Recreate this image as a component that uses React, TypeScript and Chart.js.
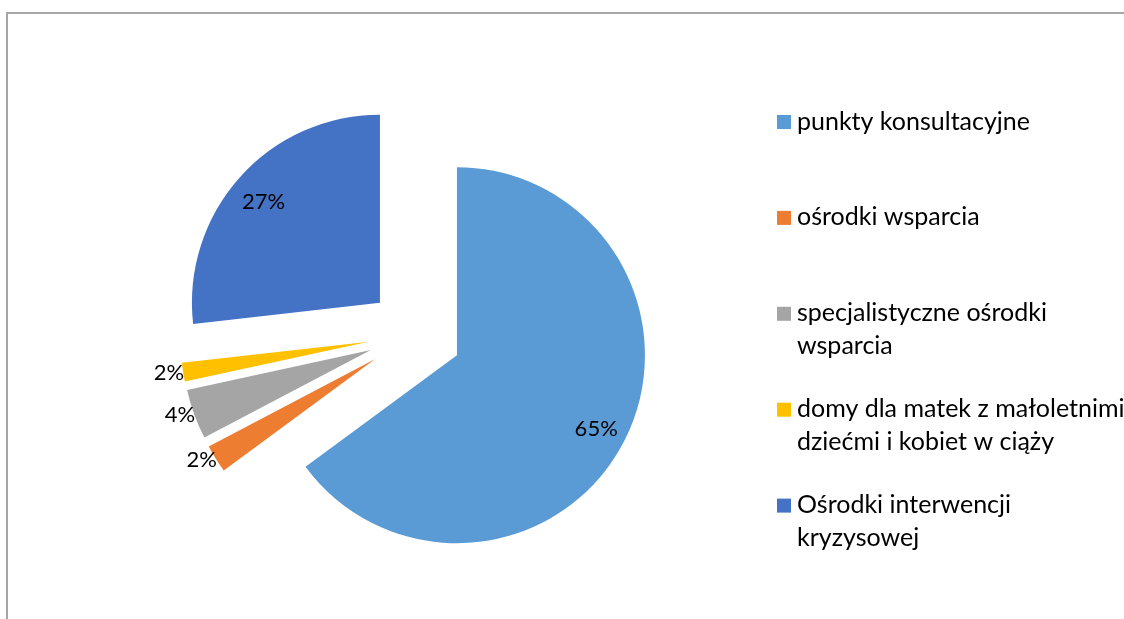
import React, { useEffect, useRef } from "react";
import { Chart, registerables } from "chart.js";

Chart.register(...registerables);

const categories = [
  "punkty konsultacyjne",
  "ośrodki wsparcia",
  "specjalistyczne ośrodki wsparcia",
  "domy dla matek z małoletnimi dziećmi i kobiet w ciąży",
  "Ośrodki interwencji kryzysowej",
];
const shares = [64.9, 2.4, 4.3, 1.6, 26.8];
const colors = ["#5B9BD5", "#ED7D31", "#A5A5A5", "#FFC000", "#4472C4"];
const explode = [47, 47, 47, 47, 47];

const FONT = "Lato, 'Open Sans', 'Noto Sans', sans-serif";

function wrapText(ctx: CanvasRenderingContext2D, text: string, maxWidth: number): string[] {
  const words = text.split(" ");
  const lines: string[] = [];
  let cur = "";
  for (const w of words) {
    const test = cur ? cur + " " + w : w;
    if (ctx.measureText(test).width > maxWidth && cur) {
      lines.push(cur);
      cur = w;
    } else {
      cur = test;
    }
  }
  if (cur) lines.push(cur);
  return lines;
}

const explodePlugin = {
  id: "explodeSlices",
  afterDatasetsUpdate(chart: any) {
    const meta = chart.getDatasetMeta(0);
    meta.data.forEach((arc: any, i: number) => {
      const mid = (arc.startAngle + arc.endAngle) / 2;
      arc.x += Math.cos(mid) * explode[i];
      arc.y += Math.sin(mid) * explode[i];
    });
  },
};

const labelPlugin = {
  id: "pctLabels",
  afterDatasetsDraw(chart: any) {
    const ctx: CanvasRenderingContext2D = chart.ctx;
    const meta = chart.getDatasetMeta(0);
    const total = shares.reduce((a, b) => a + b, 0);
    ctx.save();
    ctx.font = `22px ${FONT}`;
    ctx.fillStyle = "#000";
    ctx.textBaseline = "alphabetic";
    meta.data.forEach((arc: any, i: number) => {
      const share = shares[i] / total;
      const text = Math.round(share * 100) + "%";
      const mid = (arc.startAngle + arc.endAngle) / 2;
      const r = arc.outerRadius;
      if (share > 0.1) {
        const x = arc.x + Math.cos(mid) * r * 0.83;
        const y = arc.y + Math.sin(mid) * r * 0.83;
        ctx.textAlign = "center";
        ctx.fillText(text, x, y + 10);
      } else {
        const x = arc.x + Math.cos(mid) * r + 1;
        const y = arc.y + Math.sin(mid) * r;
        ctx.textAlign = "right";
        ctx.fillText(text, x, y + 8);
      }
    });
    ctx.restore();
  },
};

const legendPlugin = {
  id: "sideLegend",
  afterDraw(chart: any) {
    const ctx: CanvasRenderingContext2D = chart.ctx;
    const boxX = 777;
    const textX = 797;
    const firstY = 122;
    const step = 95.9;
    const lineH = 33;
    ctx.save();
    ctx.font = `25px ${FONT}`;
    ctx.textAlign = "left";
    ctx.textBaseline = "alphabetic";
    categories.forEach((cat, i) => {
      const cy = firstY + i * step;
      ctx.fillStyle = colors[i];
      ctx.fillRect(boxX, cy - 7, 14, 14);
      ctx.fillStyle = "#000";
      const lines = wrapText(ctx, cat, 335);
      lines.forEach((ln, j) => {
        ctx.fillText(ln, textX, cy + 7.5 + j * lineH);
      });
    });
    ctx.restore();
  },
};

export default function App() {
  const canvasRef = useRef<HTMLCanvasElement | null>(null);

  useEffect(() => {
    if (!canvasRef.current) return;
    const chart = new Chart(canvasRef.current, {
      type: "pie",
      data: {
        labels: categories,
        datasets: [
          {
            data: shares,
            backgroundColor: colors,
            borderWidth: 0,
            radius: 188,
            clip: false,
          } as any,
        ],
      },
      options: {
        responsive: false,
        animation: false,
        events: [],
        layout: { padding: { left: 0, right: 294, top: 49, bottom: 0 } },
        plugins: {
          legend: { display: false },
          tooltip: { enabled: false },
          title: { display: false },
        },
      },
      plugins: [explodePlugin, labelPlugin, legendPlugin],
    });
    return () => chart.destroy();
  }, []);

  return (
    <div
      style={{
        position: "fixed",
        left: 0,
        top: 0,
        width: 1124,
        height: 619,
        background: "#fff",
        overflow: "hidden",
      }}
    >
      <div
        style={{
          position: "absolute",
          left: 6,
          top: 12,
          width: 1130,
          height: 620,
          borderLeft: "2px solid #a6a6a6",
          borderTop: "2px solid #a6a6a6",
          boxSizing: "border-box",
        }}
      />
      <canvas
        ref={canvasRef}
        width={1124}
        height={619}
        style={{ position: "absolute", left: 0, top: 0, width: 1124, height: 619 }}
      />
    </div>
  );
}
